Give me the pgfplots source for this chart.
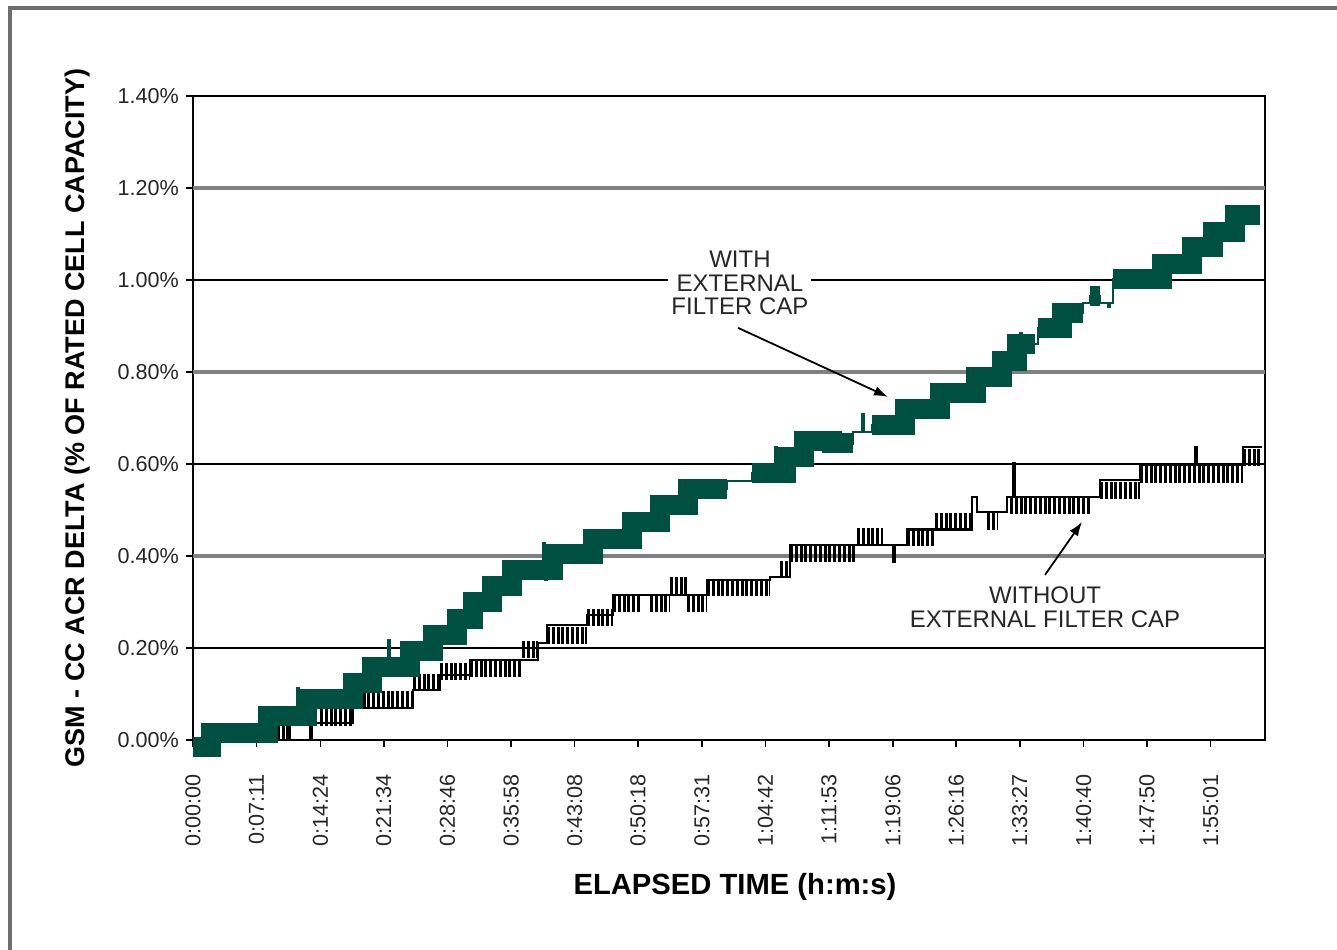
\documentclass[border=0pt]{standalone}
\usepackage{fontspec}
\setmainfont{Liberation Sans}
\usepackage{pgfplots}
\pgfplotsset{compat=1.18}
\usetikzlibrary{arrows.meta}
\definecolor{filtgreen}{RGB}{0,80,66}
\definecolor{gridgray}{RGB}{128,128,128}
\definecolor{framegray}{RGB}{110,110,110}

\pgfplotsset{
  band/.style={const plot, draw=filtgreen, line width=10pt, line join=miter, line cap=butt, mark=none},
  thin/.style={const plot, draw=#1, line width=1.3pt, mark=none},
  noise/.style={jump mark left, draw=black, line width=8.5pt, line cap=butt, dash pattern=on 1.5pt off 0.9pt, mark=none},
}

\begin{document}
\begin{tikzpicture}
\begin{axis}[
    name=ax, at={(0,0)}, anchor=south west,
    scale only axis, width=536pt, height=322pt,
    xmin=0, xmax=7270, ymin=0, ymax=1.4,
    clip=false,
    axis line style={black, line width=1pt},
    tick align=outside, major tick length=3.5pt,
    tick style={black, line width=0.8pt},
    xtick pos=bottom, ytick pos=left,
    xtick={0,431,864,1294,1726,2158,2588,3018,3451,3882,4313,4746,5176,5607,6040,6470,6901},
    xticklabels={0:00:00,0:07:11,0:14:24,0:21:34,0:28:46,0:35:58,0:43:08,0:50:18,0:57:31,1:04:42,1:11:53,1:19:06,1:26:16,1:33:27,1:40:40,1:47:50,1:55:01},
    ytick={0,0.2,0.6,1.0,1.4},
    yticklabels={0.00\%,0.20\%,0.60\%,1.00\%,1.40\%},
    extra y ticks={0.4,0.8,1.2},
    extra y tick labels={0.40\%,0.80\%,1.20\%},
    extra y tick style={ymajorgrids=true, major grid style={gridgray, line width=1.6pt}},
    ymajorgrids=true, major grid style={black, line width=1pt},
    ticklabel style={font=\fontsize{10.8}{12}\selectfont, text=black!85},
    xticklabel style={rotate=90, anchor=east},
    xticklabel shift=10pt,
    xlabel={ELAPSED TIME (h:m:s)},
    xlabel style={at={(axis description cs:0.5056,-0.228)}, anchor=center, font=\fontsize{14.6}{16}\selectfont\bfseries},
    ylabel={GSM - CC ACR DELTA (\% OF RATED CELL CAPACITY)},
    ylabel style={at={(axis description cs:-0.108,0.5)}, anchor=center, font=\fontsize{13.5}{15}\selectfont\bfseries},
]
% --- without external filter cap (black): noise bands
\addplot[noise] coordinates {(536,0.017) (658,0.017)};
\addplot[noise] coordinates {(861,0.049) (1085,0.089) (1492,0.125) (1675,0.150) (1878,0.155) (2231,0.196) (2340,0.196)};
\addplot[noise] coordinates {(2401,0.228) (2672,0.266) (2848,0.297) (3031,0.297)};
\addplot[noise] coordinates {(3099,0.297) (3235,0.335) (3350,0.297) (3486,0.331) (3913,0.331)};
\addplot[noise] coordinates {(3981,0.370) (4049,0.405) (4503,0.442) (4679,0.442)};
\addplot[noise] coordinates {(4842,0.440) (5032,0.475) (5283,0.475)};
\addplot[noise] coordinates {(5385,0.474) (5452,0.474)};
\addplot[noise] coordinates {(5540,0.509) (6083,0.509)};
\addplot[noise] coordinates {(6151,0.543) (6422,0.578) (7121,0.615) (7249,0.615)};
% --- black baseline
\addplot[thin=black] coordinates {
  (0,0.0) (658,0.037) (793,0.0) (807,0.037) (1085,0.070) (1492,0.109)
  (1675,0.141) (1878,0.174) (2340,0.211) (2401,0.250) (2672,0.272)
  (2848,0.315) (3486,0.348) (3913,0.354) (4049,0.424) (4747,0.387)
  (4761,0.424) (4842,0.457) (5283,0.528) (5317,0.496) (5520,0.528)
  (5561,0.602) (5575,0.528) (6151,0.565) (6422,0.598) (6795,0.637)
  (6809,0.598) (7121,0.637) (7249,0.637)
};
% --- with external filter cap (green): thin trace with spikes
\addplot[thin=filtgreen] coordinates {
  (0,-0.016) (122,0.016) (509,0.053) (705,0.113) (719,0.053) (773,0.089)
  (1085,0.125) (1214,0.158) (1322,0.217) (1336,0.158) (1472,0.194)
  (1628,0.229) (1790,0.264) (1899,0.299) (2028,0.335) (2163,0.370)
  (2373,0.428) (2387,0.348) (2401,0.370) (2441,0.404) (2713,0.438)
  (2977,0.475) (3167,0.511) (3357,0.546) (3621,0.563) (3791,0.580)
  (3947,0.637) (3961,0.580) (4021,0.615) (4143,0.650) (4333,0.645)
  (4476,0.670) (4537,0.707) (4551,0.670) (4605,0.685) (4828,0.720)
  (5066,0.755) (5310,0.789) (5486,0.824) (5588,0.861) (5608,0.885)
  (5622,0.861) (5730,0.896) (5893,0.929) (6036,0.950) (6083,0.965)
  (6151,0.950) (6205,0.941) (6219,0.950) (6239,1.002) (6571,1.035)
  (6775,1.071) (6917,1.105) (7066,1.141) (7236,1.141)
};
% --- green blocks
\addplot[band] coordinates {
  (0,-0.016) (122,0.016) (509,0.053) (773,0.089) (1085,0.125) (1214,0.158)
  (1472,0.194) (1628,0.229) (1790,0.264) (1899,0.299) (2028,0.335)
  (2163,0.370) (2441,0.404) (2713,0.438) (2977,0.475) (3167,0.511)
  (3357,0.546) (3621,0.546)
};
\addplot[band] coordinates {(3791,0.580) (4021,0.615) (4143,0.650) (4333,0.645) (4476,0.645)};
\addplot[band] coordinates {(4605,0.685) (4828,0.720) (5066,0.755) (5310,0.789) (5486,0.824) (5588,0.861) (5710,0.861)};
\addplot[band] coordinates {(5730,0.896) (5893,0.929) (6036,0.929)};
\addplot[band] coordinates {(6083,0.965) (6151,0.965)};
\addplot[band] coordinates {(6239,1.002) (6571,1.035) (6775,1.071) (6917,1.105) (7066,1.141) (7236,1.141)};

% --- annotations
\node[fill=white, inner sep=1.5pt, align=center, text=black!85,
      font=\fontsize{12}{11.8}\selectfont] at (axis cs:3709,0.993)
      {WITH\\EXTERNAL\\FILTER CAP};
\draw[black, line width=0.9pt, -{Latex[length=7pt,width=5pt]}]
      (axis cs:3696,0.896) -- (axis cs:4713,0.746);
\node[align=center, text=black!85, font=\fontsize{12}{11.8}\selectfont]
      at (axis cs:5778,0.289) {WITHOUT\\EXTERNAL FILTER CAP};
\draw[black, line width=0.9pt, -{Latex[length=7pt,width=5pt]}]
      (axis cs:5778,0.359) -- (axis cs:6029,0.474);
\end{axis}
\pgfresetboundingbox
\useasboundingbox (-96.5pt,-104.5pt) rectangle (572pt,370pt);
\draw[framegray, line width=1.8pt] (-91.5pt,-110pt) -- (-91.5pt,366pt) -- (580pt,366pt);
\end{tikzpicture}
\end{document}
